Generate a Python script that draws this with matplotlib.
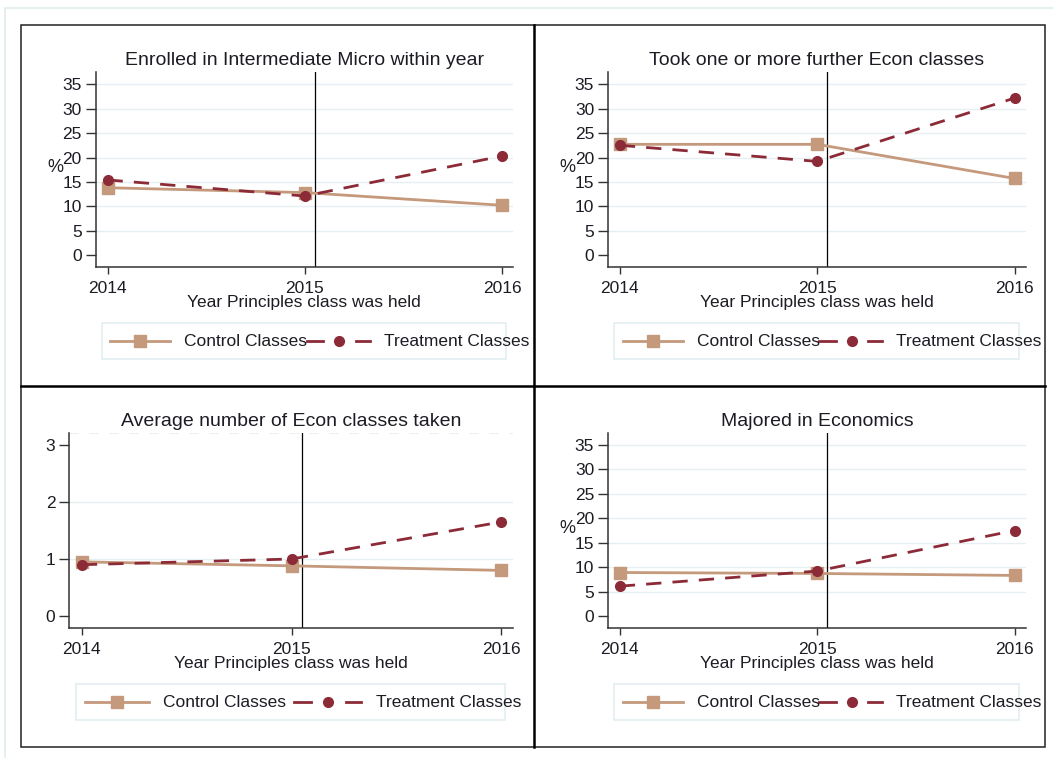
import matplotlib
matplotlib.use("Agg")
import matplotlib.pyplot as plt
from matplotlib.lines import Line2D
from matplotlib.patches import Rectangle

plt.rcParams['font.family'] = ['Liberation Sans', 'DejaVu Sans']

# data
years = [2014, 2015, 2016]
titles = ["Enrolled in Intermediate Micro within year",
          "Took one or more further Econ classes",
          "Average number of Econ classes taken",
          "Majored in Economics"]
control_micro = [13.8, 12.8, 10.2]
treat_micro = [15.4, 12.1, 20.3]
control_further = [22.7, 22.7, 15.7]
treat_further = [22.5, 19.2, 32.2]
control_avg = [0.95, 0.88, 0.80]
treat_avg = [0.90, 1.00, 1.65]
control_major = [8.9, 8.7, 8.3]
treat_major = [6.1, 9.2, 17.5]
pct_ticks = [0, 5, 10, 15, 20, 25, 30, 35]
avg_ticks = [0, 1, 2, 3]
legend_labels = ["Control Classes", "Treatment Classes"]
cutoff = 2015.05

W, H = 1053, 758
C_CTRL = "#c4997c"
C_TREAT = "#8c2b37"
C_GRID = "#e6eff1"
C_TEXT = "#1c1c24"

fig = plt.figure(figsize=(W / 100, H / 100), dpi=100)


def rect(x0, y0, x1, y1):
    return [x0 / W, 1 - y1 / H, (x1 - x0) / W, (y1 - y0) / H]


def fline(xs, ys, **kw):
    fig.add_artist(Line2D([x / W for x in xs], [1 - y / H for y in ys], **kw))


# outer light border and black panel frames
fline([5, 5, 1053], [758, 8, 8], color="#e2ecee", lw=1.2)
fig.add_artist(Rectangle((20.7 / W, 1 - 746.5 / H), (1045 - 20.7) / W, (746.5 - 25) / H,
                         fill=False, edgecolor="#222222", lw=1.1))
fline([534, 534], [25, 746.5], color="black", lw=1.8)
fline([20.7, 1045], [385.7, 385.7], color="black", lw=1.8)

panels = [
    (rect(95.7, 71.7, 513, 266.7), titles[0], control_micro, treat_micro, pct_ticks, (-2.4, 37.6), True),
    (rect(608, 71.7, 1025.7, 266.7), titles[1], control_further, treat_further, pct_ticks, (-2.4, 37.6), True),
    (rect(69.3, 433.3, 513, 627.7), titles[2], control_avg, treat_avg, avg_ticks, (-0.205, 3.205), False),
    (rect(608, 433.3, 1025.7, 627.7), titles[3], control_major, treat_major, pct_ticks, (-2.4, 37.4), True),
]

for pos, title, ctrl, treat, yt, ylim, pct in panels:
    ax = fig.add_axes(pos)
    ax.set_xlim(2013.94, 2016.056)
    ax.set_ylim(*ylim)
    for v in yt[1:]:
        if v < ylim[1] - 0.3 or pct:
            ax.axhline(v, color=C_GRID, lw=1.0, zorder=0)
    if not pct:
        ax.axhline(ylim[1], color=C_GRID, lw=1.2, ls=(0, (6, 6)), zorder=0)
    ax.axvline(cutoff, color="black", lw=0.9, zorder=1)
    ax.plot(years, ctrl, color=C_CTRL, lw=2.0, marker="s", ms=8.5,
            mfc=C_CTRL, mec=C_CTRL, zorder=3)
    ax.plot(years, treat, color=C_TREAT, lw=2.0, ls=(0, (5.5, 4)), marker="o", ms=7,
            mfc=C_TREAT, mec=C_TREAT, zorder=4)

    for s in ["top", "right"]:
        ax.spines[s].set_visible(False)
    for s in ["left", "bottom"]:
        ax.spines[s].set_color("#333333")
        ax.spines[s].set_linewidth(1.1)
    ax.set_xticks(years)
    ax.set_xticklabels([str(y) for y in years])
    ax.set_yticks(yt)
    ax.tick_params(axis="x", length=5, width=1.0, pad=5, labelsize=12.5, colors="#333333",
                   labelcolor=C_TEXT)
    ax.tick_params(axis="y", length=7, width=1.0, pad=3, labelsize=12.5, colors="#333333",
                   labelcolor=C_TEXT)

    ax.set_title(title, fontsize=14, color=C_TEXT, pad=5)
    ax.set_xlabel("Year Principles class was held", fontsize=12.5, color=C_TEXT, va="center")
    ax.xaxis.set_label_coords(0.5, -0.185)
    if pct:
        ax.text(-0.097, 0.51, "%", transform=ax.transAxes, ha="center", va="center",
                fontsize=13, color=C_TEXT)

    # legend drawn by hand so that the text can run past its frame, as in the original
    bl, bw = 0.015, 0.968
    yc = -0.383
    ax.add_patch(Rectangle((bl, -0.475), bw, 0.185, transform=ax.transAxes, fill=False,
                           edgecolor="#e3edf0", lw=1.2, clip_on=False))

    def lx(f):
        return bl + f * bw

    ax.add_line(Line2D([lx(0.0205), lx(0.169)], [yc, yc], transform=ax.transAxes,
                       color=C_CTRL, lw=2.0, clip_on=False))
    ax.add_line(Line2D([lx(0.0948)], [yc], transform=ax.transAxes, marker="s", ms=8.5,
                       color=C_CTRL, clip_on=False))
    ax.text(lx(0.2037), yc, legend_labels[0], transform=ax.transAxes, ha="left", va="center",
            fontsize=12.5, color=C_TEXT)
    ax.add_line(Line2D([lx(0.507), lx(0.548)], [yc, yc], transform=ax.transAxes,
                       color=C_TREAT, lw=2.0, clip_on=False))
    ax.add_line(Line2D([lx(0.628), lx(0.663)], [yc, yc], transform=ax.transAxes,
                       color=C_TREAT, lw=2.0, clip_on=False))
    ax.add_line(Line2D([lx(0.587)], [yc], transform=ax.transAxes, marker="o", ms=7,
                       color=C_TREAT, clip_on=False))
    ax.text(lx(0.698), yc, legend_labels[1], transform=ax.transAxes, ha="left", va="center",
            fontsize=12.5, color=C_TEXT)

fig.savefig("out.png", dpi=100)
